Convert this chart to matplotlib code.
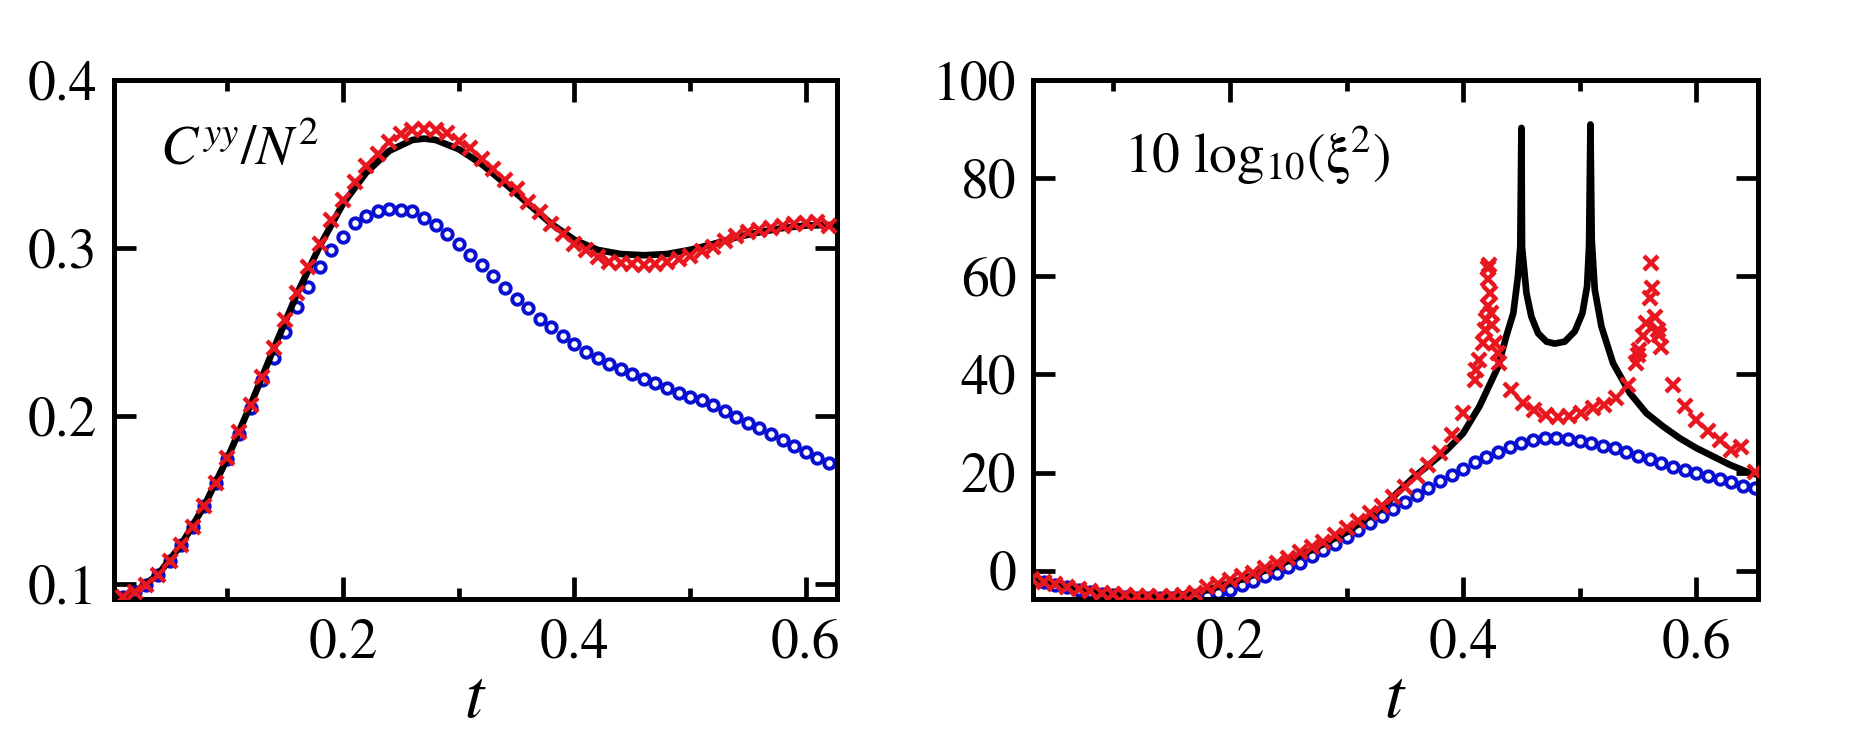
import matplotlib
matplotlib.use("Agg")
import matplotlib.pyplot as plt
from matplotlib.ticker import MultipleLocator, FixedLocator

plt.rcParams['font.family'] = ['STIXGeneral', 'Liberation Serif', 'DejaVu Serif']
plt.rcParams['mathtext.fontset'] = 'stix'

# ---- left panel: C^yy / N^2 ----
left_t = [0.01, 0.02, 0.03, 0.04, 0.05, 0.06, 0.07, 0.08, 0.09, 0.10,
          0.11, 0.12, 0.13, 0.14, 0.15, 0.16, 0.17, 0.18, 0.19, 0.20,
          0.21, 0.22, 0.23, 0.24, 0.25, 0.26, 0.27, 0.28, 0.29, 0.30,
          0.31, 0.32, 0.33, 0.34, 0.35, 0.36, 0.37, 0.38, 0.39, 0.40,
          0.41, 0.42, 0.43, 0.44, 0.45, 0.46, 0.47, 0.48, 0.49, 0.50,
          0.51, 0.52, 0.53, 0.54, 0.55, 0.56, 0.57, 0.58, 0.59, 0.60,
          0.61, 0.62]
left_blue = [0.0922, 0.0952, 0.0995, 0.1055, 0.1135, 0.1232, 0.1340, 0.1465, 0.1600, 0.1745,
             0.1895, 0.2050, 0.2214, 0.2344, 0.2503, 0.2652, 0.2771, 0.2887, 0.2990, 0.3069,
             0.3149, 0.3193, 0.3222, 0.3236, 0.3230, 0.3220, 0.3180, 0.3141, 0.3087, 0.3028,
             0.2962, 0.2899, 0.2833, 0.2764, 0.2700, 0.2641, 0.2581, 0.2528, 0.2476, 0.2427,
             0.2383, 0.2347, 0.2310, 0.2278, 0.2250, 0.2220, 0.2195, 0.2168, 0.2140, 0.2115,
             0.2095, 0.2065, 0.2030, 0.1995, 0.1960, 0.1928, 0.1895, 0.1860, 0.1822, 0.1785,
             0.1747, 0.1720]
left_red = [0.0922, 0.0952, 0.0995, 0.1055, 0.1135, 0.1232, 0.1340, 0.1465, 0.1600, 0.1748,
            0.1905, 0.2066, 0.2234, 0.2404, 0.2573, 0.2732, 0.2890, 0.3026, 0.3170, 0.3288,
            0.3397, 0.3490, 0.3560, 0.3635, 0.3680, 0.3705, 0.3712, 0.3705, 0.3685, 0.3640,
            0.3595, 0.3534, 0.3474, 0.3405, 0.3350, 0.3276, 0.3216, 0.3147, 0.3087, 0.3027,
            0.2988, 0.2948, 0.2918, 0.2909, 0.2905, 0.2899, 0.2905, 0.2918, 0.2935, 0.2955,
            0.2985, 0.3010, 0.3045, 0.3075, 0.3095, 0.3110, 0.3122, 0.3135, 0.3145, 0.3152,
            0.3158, 0.3135]
left_black_t = [0.005, 0.01, 0.02, 0.04, 0.06, 0.08, 0.10, 0.12, 0.14, 0.16,
                0.18, 0.20, 0.22, 0.24, 0.26, 0.27, 0.28, 0.30, 0.32, 0.34,
                0.36, 0.38, 0.40, 0.42, 0.44, 0.46, 0.48, 0.50, 0.52, 0.54,
                0.56, 0.58, 0.60, 0.627]
left_black = [0.0905, 0.0922, 0.0952, 0.1055, 0.1232, 0.1465, 0.1748, 0.2066, 0.2400, 0.2725,
              0.3015, 0.3265, 0.3450, 0.3580, 0.3645, 0.3653, 0.3645, 0.3590, 0.3500, 0.3385,
              0.3265, 0.3145, 0.3050, 0.2990, 0.2965, 0.2958, 0.2965, 0.2990, 0.3025, 0.3065,
              0.3095, 0.3120, 0.3135, 0.3139]

# ---- right panel: 10 log10(xi^2) ----
right_blue_t = [0.03, 0.04, 0.05, 0.06, 0.07, 0.08, 0.09, 0.10, 0.11, 0.12,
                0.13, 0.14, 0.15, 0.16, 0.17, 0.18, 0.19, 0.20, 0.21, 0.22,
                0.23, 0.24, 0.25, 0.26, 0.27, 0.28, 0.29, 0.30, 0.31, 0.32,
                0.33, 0.34, 0.35, 0.36, 0.37, 0.38, 0.39, 0.40, 0.41, 0.42,
                0.43, 0.44, 0.45, 0.46, 0.47, 0.48, 0.49, 0.50, 0.51, 0.52,
                0.53, 0.54, 0.55, 0.56, 0.57, 0.58, 0.59, 0.60, 0.61, 0.62,
                0.63, 0.64, 0.65]
right_blue = [-1.9, -2.4, -2.9, -3.4, -3.9, -4.4, -4.8, -5.1, -5.3, -5.5,
              -5.6, -5.7, -5.7, -5.6, -5.4, -5.1, -4.6, -3.9, -2.9, -2.2,
              -1.2, -0.4, 0.8, 1.6, 2.9, 4.2, 5.4, 6.8, 8.3, 9.8,
              11.2, 12.6, 14.0, 15.4, 16.8, 18.2, 19.5, 20.8, 22.1, 23.2,
              24.2, 25.2, 26.0, 26.6, 27.0, 27.0, 26.8, 26.4, 26.0, 25.5,
              24.9, 24.1, 23.4, 22.7, 21.9, 21.2, 20.5, 19.8, 19.2, 18.7,
              18.0, 17.3, 16.8]
right_red_t = [0.03, 0.04, 0.05, 0.06, 0.07, 0.08, 0.09, 0.10, 0.11, 0.12,
               0.13, 0.14, 0.15, 0.16, 0.17, 0.18, 0.19, 0.20, 0.21, 0.22,
               0.23, 0.24, 0.25, 0.26, 0.27, 0.28, 0.29, 0.30, 0.31, 0.32,
               0.33, 0.34, 0.35, 0.36, 0.37, 0.38, 0.39, 0.40,
               0.410, 0.411, 0.414, 0.417, 0.419, 0.420, 0.421, 0.423, 0.421, 0.421,
               0.422, 0.424, 0.425, 0.427, 0.430, 0.431,
               0.441, 0.451, 0.461, 0.471, 0.481, 0.491, 0.501, 0.511, 0.521, 0.531, 0.541,
               0.548, 0.550, 0.551, 0.554, 0.557, 0.560, 0.562, 0.561, 0.565, 0.567,
               0.568, 0.570,
               0.580, 0.590, 0.600, 0.610, 0.620, 0.630, 0.638, 0.650]
right_red = [-1.8, -2.3, -2.8, -3.3, -3.8, -4.2, -4.5, -4.8, -5.0, -5.1,
             -5.2, -5.3, -5.2, -5.0, -4.5, -3.4, -2.7, -2.0, -1.2, -0.5,
             0.5, 1.5, 2.5, 3.7, 4.9, 5.9, 7.3, 8.7, 10.2, 11.7,
             13.2, 15.1, 17.0, 19.2, 21.6, 24.0, 27.7, 32.1,
             38.9, 41.0, 43.0, 46.4, 49.0, 51.2, 53.9, 56.6, 59.5, 61.7,
             62.3, 52.6, 50.0, 46.4, 44.4, 42.3,
             36.9, 34.2, 32.8, 31.8, 31.4, 31.6, 32.1, 33.1, 33.8, 35.2, 37.9,
             42.3, 44.0, 45.0, 47.8, 50.5, 55.6, 57.6, 62.7, 51.8, 49.0,
             48.1, 45.7,
             37.9, 33.5, 30.8, 28.4, 26.7, 24.6, 25.3, 20.2]
right_black_t = [0.03, 0.06, 0.09, 0.12, 0.15, 0.18, 0.21, 0.24, 0.27, 0.30,
                 0.33, 0.357, 0.386, 0.40, 0.414, 0.43, 0.437, 0.443, 0.447, 0.449,
                 0.4500, 0.4505, 0.4543, 0.4585, 0.4643, 0.4715, 0.4786, 0.4872, 0.4958, 0.5023,
                 0.5063, 0.508, 0.5092, 0.5103, 0.5129, 0.5186, 0.5286, 0.543, 0.5572, 0.5715,
                 0.5858, 0.60, 0.6143, 0.6286, 0.6429, 0.653]
right_black = [-1.8, -3.3, -4.6, -5.2, -5.3, -4.0, -1.8, 0.9, 4.2, 7.8,
               12.8, 18.9, 24.6, 28.0, 33.5, 41.6, 47.8, 52.5, 60.0, 66.1,
               90.3, 66.0, 56.6, 51.8, 48.4, 46.7, 46.3, 46.7, 48.8, 52.5,
               58.0, 66.1, 91.0, 67.5, 57.3, 49.8, 42.3, 36.2, 32.1, 29.4,
               27.0, 25.0, 23.3, 21.6, 20.2, 19.5]

BLUE = '#0a10d2'
RED = '#e8161e'
TICK_FS = 40

fig = plt.figure(figsize=(18.6, 7.56), dpi=100)
ax1 = fig.add_axes([0.0613, 0.2077, 0.3887, 0.686])
ax2 = fig.add_axes([0.5554, 0.2077, 0.3898, 0.686])


def style(ax):
    for sp in ax.spines.values():
        sp.set_linewidth(3.6)
    ax.tick_params(which='both', direction='in', top=True, right=True,
                   width=3.4, labelsize=TICK_FS)
    ax.tick_params(which='major', length=16)
    ax.tick_params(which='minor', length=8)
    ax.tick_params(axis='x', which='both', pad=14)
    ax.tick_params(axis='y', which='both', pad=12)
    ax.xaxis.set_major_locator(FixedLocator([0.2, 0.4, 0.6]))
    ax.xaxis.set_minor_locator(FixedLocator([0.1, 0.3, 0.5]))
    ax.set_xlabel('$t$', fontsize=50, labelpad=0)


# left
ax1.plot(left_t, left_blue, 'o', ms=7.5, mfc='white', mec=BLUE, mew=2.8, zorder=2)
ax1.plot(left_black_t, left_black, '-', color='black', lw=4.8, zorder=3)
ax1.plot(left_t, left_red, 'x', ms=10, mec=RED, mew=3.2, zorder=4)
ax1.set_xlim(0.002, 0.627)
ax1.set_ylim(0.091, 0.4)
ax1.yaxis.set_major_locator(FixedLocator([0.1, 0.2, 0.3, 0.4]))
style(ax1)
ax1.text(0.064, 0.865, r'$C^{yy}/N^{2}$', transform=ax1.transAxes,
         fontsize=40, va='center', ha='left')

# right
ax2.plot(right_blue_t, right_blue, 'o', ms=7.5, mfc='white', mec=BLUE, mew=2.8, zorder=2)
ax2.plot(right_black_t, right_black, '-', color='black', lw=4.8, zorder=3)
ax2.plot(right_red_t, right_red, 'x', ms=10, mec=RED, mew=3.2, zorder=4)
ax2.set_xlim(0.031, 0.653)
ax2.set_ylim(-5.8, 100)
ax2.yaxis.set_major_locator(MultipleLocator(20))
style(ax2)
ax2.text(0.126, 0.855, '10 log$_{10}$(\u03be$^{2}$)', transform=ax2.transAxes,
         fontsize=40, va='center', ha='left')

fig.savefig('out.png', dpi=100)
